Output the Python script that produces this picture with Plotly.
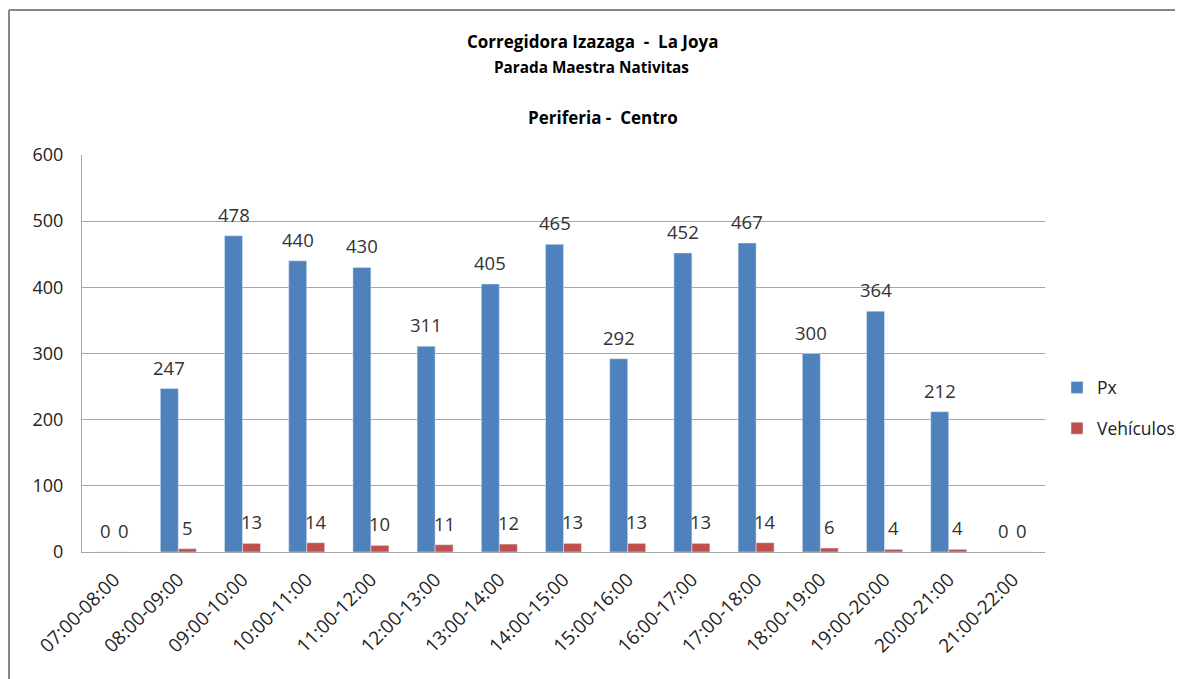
import plotly.graph_objects as go

categories = ["07:00-08:00", "08:00-09:00", "09:00-10:00", "10:00-11:00", "11:00-12:00",
              "12:00-13:00", "13:00-14:00", "14:00-15:00", "15:00-16:00", "16:00-17:00",
              "17:00-18:00", "18:00-19:00", "19:00-20:00", "20:00-21:00", "21:00-22:00"]
px_values = [0, 247, 478, 440, 430, 311, 405, 465, 292, 452, 467, 300, 364, 212, 0]
veh_values = [0, 5, 13, 14, 10, 11, 12, 13, 13, 13, 14, 6, 4, 4, 0]

FONT = "Open Sans"
OFF = 8  # page body offset
# plot area in screen pixels
PL, PR, PT, PB = 82, 1045, 155, 552
W, H = 1183 - OFF, 679 - OFF
pw, ph = PR - PL, PB - PT

def xpaper(sx):
    return (sx - PL) / pw
def ypaper(sy):
    return (PB - sy) / ph

fig = go.Figure()
fig.add_trace(go.Bar(name="Px", x=categories, y=px_values, marker_color="#4F81BD",
                     legendgroup="a"))
fig.add_trace(go.Bar(name="Vehículos", x=categories, y=veh_values, marker_color="#C0504D",
                     legendgroup="b"))

# data labels
for vals, dx in ((px_values, -9), (veh_values, 9)):
    for c, v in zip(categories, vals):
        fig.add_annotation(x=c, y=v, text=str(v), showarrow=False, xref="x", yref="y",
                           xshift=dx, yshift=7, yanchor="bottom", xanchor="center",
                           font=dict(size=18.5, color="#333333"))

fig.update_layout(
    width=W, height=H,
    margin=dict(l=PL - OFF, r=W - (PR - OFF), t=PT - OFF, b=H - (PB - OFF), autoexpand=False),
    paper_bgcolor="white", plot_bgcolor="white",
    font=dict(family=FONT, size=16, color="#222222"),
    barmode="group", bargap=0.44, bargroupgap=0,
    showlegend=True,
    legend=dict(x=xpaper(1057), y=ypaper(408), yanchor="middle", xanchor="left",
                bgcolor="rgba(0,0,0,0)", traceorder="grouped",
                font=dict(size=17.5), tracegroupgap=15, itemwidth=30),
    yaxis=dict(range=[0, 600], dtick=100, showgrid=True, gridcolor="#A6A6A6",
               showline=True, linecolor="#A6A6A6", zeroline=False, automargin=False,
               tickfont=dict(size=18), ticks="", ticklabelstandoff=14),
    xaxis=dict(tickangle=-45, showline=True, linecolor="#A6A6A6", automargin=False,
               tickfont=dict(size=19), ticks="", ticklabelstandoff=8),
)
titles = [("<b>Corregidora Izazaga  -  La Joya</b>", 42, 17, 592),
          ("<b>Parada Maestra Nativitas</b>", 67, 15.3, 591),
          ("<b>Periferia -  Centro</b>", 118, 17, 603)]
for t, sy, sz, sx in titles:
    fig.add_annotation(text=t, x=xpaper(sx), y=ypaper(sy), xref="paper", yref="paper",
                       showarrow=False, font=dict(size=sz, color="#000000"),
                       xanchor="center", yanchor="middle")

# chart-area border: only the left and top edges fall inside the picture
border = dict(color="#868686", width=2)
fig.add_shape(type="line", xref="paper", yref="paper",
              x0=xpaper(9), x1=xpaper(9), y0=ypaper(800), y1=ypaper(10), line=border)
fig.add_shape(type="line", xref="paper", yref="paper",
              x0=xpaper(9), x1=xpaper(1300), y0=ypaper(10), y1=ypaper(10), line=border)

fig.write_html("out.html")
